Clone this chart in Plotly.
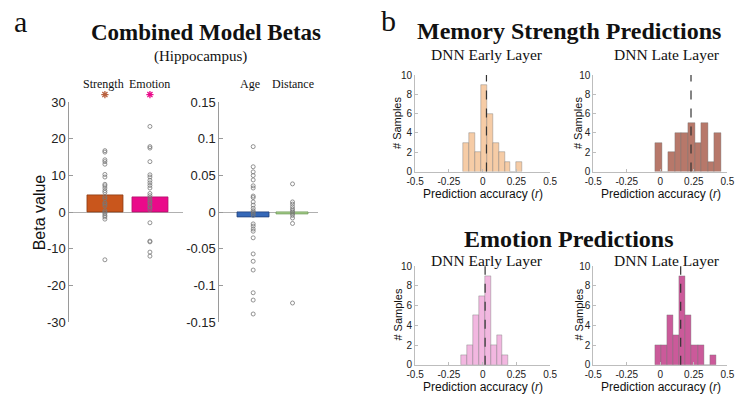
import plotly.graph_objects as go

# ---------------- Panel a data ----------------
cats_left = ["Strength", "Emotion"]
betas_left = [4.7, 4.0]
cats_right = ["Age", "Distance"]
betas_right = [-0.007, -0.0026]

strength_pts = [16.8, 16.4, 14.3, 13.8, 13.1, 10.3, 9.6, 7.6, 7.2, 6.6, 5.9, 5.4, 4.2, 3.7,
                2.6, 2.2, 1.7, 0.4, 0.0, -0.4, -0.9, -1.3, -1.9, -13.0]
emotion_pts = [23.4, 17.9, 17.5, 13.8, 10.2, 9.6, 8.7, 8.0, 7.3, 6.6, 5.1, 4.5, 3.9, 3.3,
               2.8, 2.4, 1.7, 1.3, 0.7, -2.9, -7.9, -8.1, -10.9, -12.0]
age_pts = [0.0895, 0.062, 0.055, 0.050, 0.044, 0.036, 0.033, 0.022, 0.020, 0.014, 0.0096,
           0.0053, 0.002, 0.0, -0.002, -0.0044, -0.016, -0.019, -0.023, -0.026, -0.035,
           -0.057, -0.067, -0.079, -0.110, -0.120, -0.139]
distance_pts = [0.0386, 0.014, 0.011, 0.0075, 0.0044, 0.002, 0.0, -0.002, -0.0044, -0.008,
                -0.0154, -0.124]
significant = [True, True]

# ---------------- Panel b data ----------------
mem_early_centers = [-0.123, -0.079, -0.035, 0.009, 0.053, 0.097, 0.141, 0.185, 0.229, 0.273]
mem_early_counts = [3, 4, 2, 9, 6, 3, 2, 1, 0, 1]
mem_early_mean = 0.028
mem_early_binw = 0.044

mem_late_centers = [-0.0115, 0.0375, 0.0865, 0.1355, 0.1845, 0.2335, 0.2825, 0.3315, 0.3805, 0.4295]
mem_late_counts = [3, 0, 2, 4, 4, 5, 3, 5, 1, 4]
mem_late_mean = 0.229
mem_late_binw = 0.049

emo_early_centers = [-0.1362, -0.0926, -0.049, -0.0054, 0.0382, 0.0818, 0.1254, 0.169]
emo_early_counts = [1, 2, 5, 7, 9, 2, 3, 1]
emo_early_mean = 0.018
emo_early_binw = 0.0436

emo_late_centers = [-0.0181, 0.0277, 0.0735, 0.1193, 0.1651, 0.2109, 0.2567, 0.3025, 0.3483, 0.3941]
emo_late_counts = [2, 2, 5, 3, 9, 5, 2, 2, 0, 1]
emo_late_mean = 0.152
emo_late_binw = 0.0458

x_ticks = [-0.5, -0.25, 0, 0.25, 0.5]
x_ticktext = ["-0.5", "-0.25", "0", "0.25", "0.5"]
y_ticks_hist = [0, 2, 4, 6, 8, 10]
left_ticks = [-30, -20, -10, 0, 10, 20, 30]
left_ticktext = ["-30", "-20", "-10", "0", "10", "20", "30"]
right_ticks = [-0.15, -0.1, -0.05, 0, 0.05, 0.1, 0.15]
right_ticktext = ["-0.15", "-0.1", "-0.05", "0", "0.05", "0.1", "0.15"]

W, H = 750, 401
def px(x): return x / W
def py(y): return 1 - y / H

SERIF = "Liberation Serif"
SANS = "Liberation Sans"

fig = go.Figure()

# ---- panel a bars ----
left_colors = ["#C9561C", "#EA0A8A"]
left_edges = ["#8A3A12", "#B0106A"]
fig.add_trace(go.Bar(x=[1, 2], y=betas_left, width=0.8, marker=dict(color=left_colors,
              line=dict(color=left_edges, width=0.8)), xaxis="x", yaxis="y"))
right_colors = ["#3568B8", "#A9D08E"]
right_edges = ["#1F3F7A", "#6E9A58"]
fig.add_trace(go.Bar(x=[1, 2], y=betas_right, width=0.8, marker=dict(color=right_colors,
              line=dict(color=right_edges, width=0.8)), xaxis="x2", yaxis="y2"))

pt_style = dict(symbol="circle-open", size=4, color="#777777", line=dict(width=0.8))
fig.add_trace(go.Scatter(x=[1] * len(strength_pts), y=strength_pts, mode="markers",
                         marker=pt_style, xaxis="x", yaxis="y"))
fig.add_trace(go.Scatter(x=[2] * len(emotion_pts), y=emotion_pts, mode="markers",
                         marker=pt_style, xaxis="x", yaxis="y"))
fig.add_trace(go.Scatter(x=[1] * len(age_pts), y=age_pts, mode="markers",
                         marker=pt_style, xaxis="x2", yaxis="y2"))
fig.add_trace(go.Scatter(x=[2] * len(distance_pts), y=distance_pts, mode="markers",
                         marker=pt_style, xaxis="x2", yaxis="y2"))

# significance asterisks (small overlay axis above the bars)
star_cols = ["#B8603E", "#EA0A8A"]
star_x = [i + 1 for i, s in enumerate(significant) if s]
fig.add_trace(go.Scatter(x=star_x, y=[0.5] * len(star_x), mode="markers",
                         marker=dict(symbol="asterisk-open", size=6, color=star_cols,
                                     line=dict(color=star_cols, width=1.3)),
                         xaxis="x", yaxis="y7"))

# ---- histograms ----
hists = [
    (mem_early_centers, mem_early_counts, mem_early_binw, mem_early_mean, "#F6CCA6", "x3", "y3"),
    (mem_late_centers, mem_late_counts, mem_late_binw, mem_late_mean, "#B7786A", "x4", "y4"),
    (emo_early_centers, emo_early_counts, emo_early_binw, emo_early_mean, "#F2B7E0", "x5", "y5"),
    (emo_late_centers, emo_late_counts, emo_late_binw, emo_late_mean, "#CB5A9A", "x6", "y6"),
]
shapes = []
for c, n, bw, m, col, xa, ya in hists:
    fig.add_trace(go.Bar(x=c, y=n, width=bw, marker=dict(color=col,
                  line=dict(color="rgba(110,110,110,0.55)", width=0.7)), xaxis=xa, yaxis=ya))
    shapes.append(dict(type="line", xref=xa, yref=ya + " domain", x0=m, x1=m, y0=0, y1=1,
                       line=dict(color="#333333", width=1.2, dash="dash")))

axcol = "#9A9A9A"
a_common = dict(showgrid=False, showline=True, linecolor=axcol, linewidth=1, ticks="inside",
                ticklen=4, tickcolor=axcol, tickfont=dict(family=SANS, size=13, color="#222"),
                zeroline=True, zerolinecolor="#B0B0B0", zerolinewidth=1)
hx_common = dict(showgrid=False, showline=True, linecolor="#BDBDBD", linewidth=1, ticks="inside",
                 ticklen=3, tickcolor="#BDBDBD", zeroline=False, range=[-0.5, 0.5],
                 tickvals=x_ticks, ticktext=x_ticktext,
                 tickfont=dict(family=SANS, size=10, color="#222"))
hy_common = dict(showgrid=False, showline=True, linecolor="#BDBDBD", linewidth=1, ticks="inside",
                 ticklen=3, tickcolor="#BDBDBD", zeroline=False, range=[0, 10],
                 tickvals=y_ticks_hist, tickfont=dict(family=SANS, size=10, color="#222"))

xL = [px(415), px(553)]
xR = [px(597), px(734)]
yT = [py(171), py(70.7)]
yB = [py(371.7), py(269.3)]

fig.update_layout(
    width=W, height=H, margin=dict(l=0, r=0, t=0, b=0),
    paper_bgcolor="white", plot_bgcolor="white", showlegend=False, bargap=0,
    hovermode=False,
    xaxis=dict(domain=[px(61.7), px(178)], range=[0.211, 2.739], visible=False),
    yaxis=dict(domain=[py(327.3), py(99)], range=[-30, 30], tickvals=left_ticks,
               ticktext=left_ticktext, anchor="x", **a_common),
    xaxis2=dict(domain=[px(215), px(316)], range=[0.142, 2.654], visible=False),
    yaxis2=dict(domain=[py(327.3), py(99)], range=[-0.15, 0.15], tickvals=right_ticks,
                ticktext=right_ticktext, anchor="x2", **a_common),
    xaxis3=dict(domain=xL, anchor="y3", **hx_common),
    yaxis3=dict(domain=yT, anchor="x3", **hy_common),
    xaxis4=dict(domain=xR, anchor="y4", **hx_common),
    yaxis4=dict(domain=yT, anchor="x4", **hy_common),
    xaxis5=dict(domain=xL, anchor="y5", **hx_common),
    yaxis5=dict(domain=yB, anchor="x5", **hy_common),
    xaxis6=dict(domain=xR, anchor="y6", **hx_common),
    yaxis6=dict(domain=yB, anchor="x6", **hy_common),
    yaxis7=dict(domain=[py(97), py(85)], range=[0, 1], visible=False, anchor="x"),
    shapes=shapes,
)

ann = []
def A(text, x, y, size, family=SERIF, bold=False, angle=0, xanchor="center"):
    t = f"<b>{text}</b>" if bold else text
    ann.append(dict(text=t, x=px(x), y=py(y), xref="paper", yref="paper", showarrow=False,
                    xanchor=xanchor, yanchor="middle", textangle=angle,
                    font=dict(family=family, size=size, color="#111")))

A("a", 12, 15, 30)
A("b", 388, 14, 30)
A("Combined Model Betas", 201, 26, 23, bold=True)
A("(Hippocampus)", 196, 51, 15)
for lab, xc in zip(cats_left + cats_right, [96.5, 144, 246, 290]):
    A(lab, xc, 80, 12)
A("Beta value", 31, 213, 16, family=SANS, angle=-90)

A("Memory Strength Predictions", 572, 25, 24, bold=True)
A("DNN Early Layer", 488, 49, 15.5)
A("DNN Late Layer", 672, 49, 15.5)
A("Emotion Predictions", 572, 241, 24, bold=True)
A("DNN Early Layer", 488, 263, 15.5)
A("DNN Late Layer", 672, 263, 15.5)

for yc in [194, 394.5]:
    A("Prediction accuracy (<i>r</i>)", 484, yc, 12, family=SANS)
    A("Prediction accuracy (<i>r</i>)", 666, yc, 12, family=SANS)
for yc in [121, 320]:
    A("# Samples", 397, yc, 11, family=SANS, angle=-90)
    A("# Samples", 582, yc, 11, family=SANS, angle=-90)

fig.update_layout(annotations=ann)
fig.write_html("out.html", config={"displayModeBar": False},
               post_script="document.body.style.margin='0';document.body.style.overflow='hidden';")
